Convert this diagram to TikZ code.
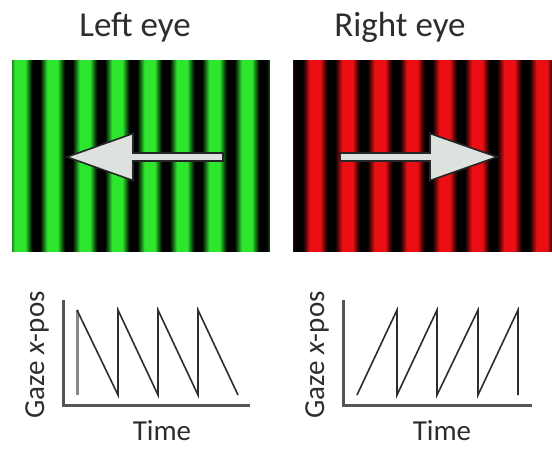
\documentclass[tikz,border=0pt]{standalone}
\usepackage{fontspec}
\setmainfont{Carlito}
\definecolor{gstripe}{RGB}{45,230,45}
\definecolor{rstripe}{RGB}{235,15,20}
\definecolor{txt}{RGB}{45,45,45}
\definecolor{axisc}{RGB}{85,85,85}
\definecolor{arrowfill}{RGB}{222,226,222}
\tikzset{
  title/.style={text=txt,font=\fontsize{35}{40}\selectfont,anchor=base,inner sep=0pt},
  lab/.style={text=txt,font=\fontsize{29}{34}\selectfont,inner sep=0pt},
  axisline/.style={draw=axisc,line width=3pt},
  saw/.style={draw=txt,line width=1.6pt,line join=miter},
  bigarrow/.style={fill=arrowfill,draw=black!85,line width=1.6pt,line join=miter}
}
\begin{document}
\begin{tikzpicture}[x=1pt,y=-1pt]
\useasboundingbox (0,0) rectangle (552,451);
\fill[white] (0,0) rectangle (552,451);
% titles
\node[title] (tl) at (135,36) {Left eye};
\node[title] (tr) at (400,36) {Right eye};
% green grating
\foreach \i in {0,...,257}{
  \pgfmathsetmacro\v{max(0,min(100,58+75*cos((\i-8)*11.1111)))}
  \fill[gstripe!\v!black] (12+\i,60) rectangle (13.3+\i,252);
}
% red grating
\foreach \i in {0,...,258}{
  \pgfmathsetmacro\v{max(0,min(100,58+75*cos((\i-22)*11.1111)))}
  \fill[rstripe!\v!black] (293+\i,60) rectangle (294.3+\i,252);
}
% arrows
\draw[bigarrow] (67,157) -- (133,133.5) -- (133,153) -- (223,153) -- (223,161) -- (133,161) -- (133,180.5) -- cycle;
\draw[bigarrow] (497,157) -- (430,133.5) -- (430,153) -- (340,153) -- (340,161) -- (430,161) -- (430,180.5) -- cycle;
% left plot
\draw[axisline] (63,300) -- (63,405) -- (250,405);
\draw[draw=axisc!70,line width=3pt] (77,310) -- (77,395);
\draw[saw] (77,310) -- (118,395) -- (118,310) -- (158,395) -- (158,310) -- (198,395) -- (198,310) -- (238,395);
\node[lab,rotate=90] (gl) at (37,355) {Gaze \textit{x}-pos};
\node[lab,anchor=base] (tml) at (162,440) {Time};
% right plot
\draw[axisline] (343,300) -- (343,405) -- (532,405);
\draw[saw] (357,395) -- (397,310) -- (397,395) -- (437,310) -- (437,395) -- (478,310) -- (478,395) -- (518,310) -- (518,395);
\node[lab,rotate=90] (gr) at (317,355) {Gaze \textit{x}-pos};
\node[lab,anchor=base] (tmr) at (442,440) {Time};
\end{tikzpicture}
\end{document}
